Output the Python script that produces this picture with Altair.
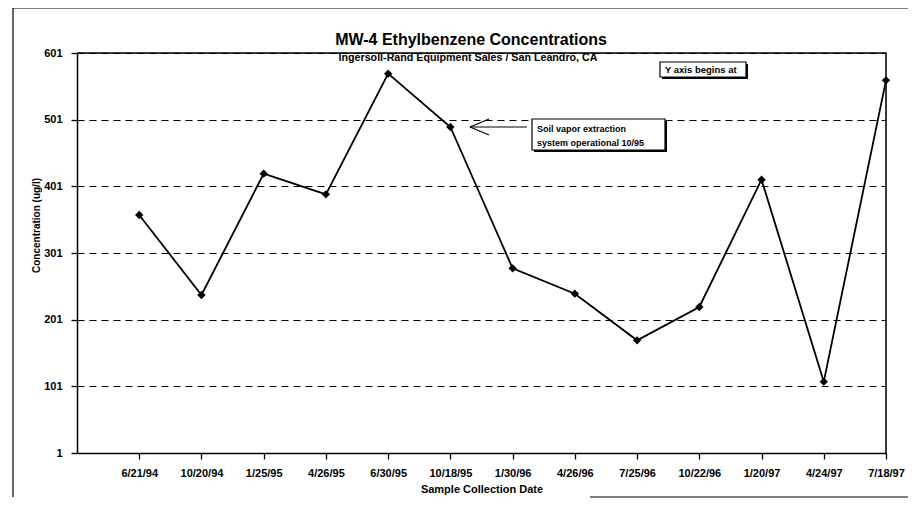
import altair as alt
import pandas as pd

dates = ["6/21/94", "10/20/94", "1/25/95", "4/26/95", "6/30/95", "10/18/95",
         "1/30/96", "4/26/96", "7/25/96", "10/22/96", "1/20/97", "4/24/97", "7/18/97"]
values = [358, 238, 420, 389, 570, 490, 278, 240, 170, 220, 411, 108, 560]
y_ticks = [1, 101, 201, 301, 401, 501, 601]

title_text = "MW-4 Ethylbenzene Concentrations"
subtitle_text = "Ingersoll-Rand Equipment Sales / San Leandro, CA"
note_lines = ["Soil vapor extraction", "system operational 10/95"]
yaxis_note = "Y axis begins at"

# corners of the plot frame (top-left, top-right, bottom-right) in data units
frame_x = [0, 13, 13]
frame_y = [601, 601, 1]

FONT = "Liberation Sans"
W, H = 809, 400

df = pd.DataFrame({"idx": list(range(1, len(dates) + 1)), "date": dates, "value": values})
frame_df = pd.DataFrame({"idx": frame_x, "value": frame_y, "order": [0, 1, 2]})
label_array = "[" + ",".join("'" + d + "'" for d in dates) + "]"

x_scale = alt.Scale(domain=[0, 13], nice=False, zero=False)
y_scale = alt.Scale(domain=[1, 601], nice=False, zero=False)

x_enc = alt.X("idx:Q", scale=x_scale,
              axis=alt.Axis(values=list(range(1, 14)), labelExpr=label_array + "[datum.value-1]",
                            grid=False, ticks=True, tickSize=6,
                            labelPadding=8, tickColor="black",
                            tickWidth=1.3, domainColor="black", domainWidth=1.5,
                            labelFont=FONT, labelFontSize=11,
                            labelFontWeight="bold", labelColor="black",
                            title="Sample Collection Date", titleFont=FONT, titleFontSize=11,
                            titleFontWeight="bold", titleColor="black",
                            titleBaseline="alphabetic", titleY=39, labelFlush=False))
y_enc = alt.Y("value:Q", scale=y_scale,
              axis=alt.Axis(values=y_ticks, grid=True, gridColor="black", gridDash=[7, 5],
                            gridWidth=1, ticks=True, tickSize=6,
                            labelPadding=9, tickColor="black",
                            tickWidth=1.3, domainColor="black", domainWidth=1.5,
                            labelFont=FONT, labelFontSize=11,
                            labelFontWeight="bold", labelColor="black",
                            title="Concentration (ug/l)", titleFont=FONT, titleFontSize=10,
                            titleFontWeight="bold", titleColor="black", titleAngle=-90,
                            titleX=-38, titleY=172, titleAlign="center",
                            titleBaseline="alphabetic"))

base = alt.Chart(df).encode(x=x_enc, y=y_enc)
line = base.mark_line(color="black", strokeWidth=1.8)
pts = base.mark_point(shape="diamond", filled=True, color="black", size=70, opacity=1)

frame = alt.Chart(frame_df).mark_line(color="black", strokeWidth=1.5).encode(
    x=alt.X("idx:Q", scale=x_scale), y=alt.Y("value:Q", scale=y_scale), order="order:Q")

one = pd.DataFrame({"a": [0]})


def text(t, x, y, size, align="left", weight="bold"):
    return alt.Chart(pd.DataFrame({"t": [t]})).mark_text(
        font=FONT, fontSize=size, fontWeight=weight, align=align, baseline="alphabetic",
        color="black").encode(text="t:N", x=alt.value(x), y=alt.value(y))


def rule(x1, y1, x2, y2, w=1.2):
    return alt.Chart(one).mark_rule(color="black", strokeWidth=w).encode(
        x=alt.value(x1), y=alt.value(y1), x2=alt.value(x2), y2=alt.value(y2))


def box(x1, y1, x2, y2):
    shadow = alt.Chart(one).mark_rect(color="black").encode(
        x=alt.value(x1 + 2), x2=alt.value(x2 + 2), y=alt.value(y1 + 2), y2=alt.value(y2 + 2))
    r = alt.Chart(one).mark_rect(fill="white", stroke="black", strokeWidth=1.2).encode(
        x=alt.value(x1), x2=alt.value(x2), y=alt.value(y1), y2=alt.value(y2))
    return shadow + r


layers = [
    line, pts, frame,
    text(title_text, 394, -8, 16, align="center"),
    text(subtitle_text, 391, 8, 10.7, align="center"),
    box(455, 66, 588, 97),
    text(note_lines[0], 460, 79, 9),
    text(note_lines[1], 460, 93, 9),
    rule(393, 74, 450, 74),
    rule(393, 74, 412, 66),
    rule(393, 74, 412, 82),
    box(583, 9, 669, 24),
    text(yaxis_note, 588, 20, 9.5),
    # outer frame of the page
    rule(-64, -45, 831, -45),
    rule(-64, -45, -64, 444),
    rule(513, 444, 831, 444),
]

chart = alt.layer(*layers).properties(
    width=W, height=H,
    background="white",
    autosize=alt.AutoSizeParams(type="none"),
    padding={"left": 69, "top": 45, "right": 23, "bottom": 45},
)

chart.save("out.html", embed_options={"renderer": "svg", "actions": False})
